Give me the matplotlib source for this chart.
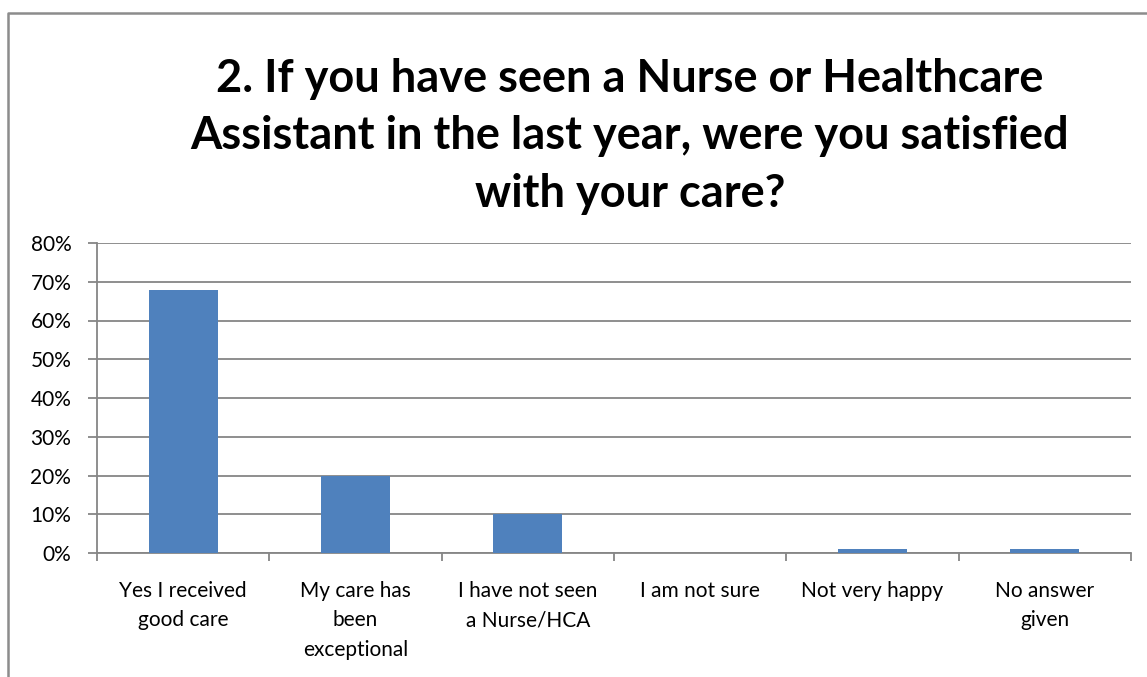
import matplotlib
matplotlib.use("Agg")
import matplotlib.pyplot as plt
from matplotlib.lines import Line2D
from matplotlib.ticker import FixedLocator, PercentFormatter

# survey answers (share of respondents)
categories = [
    "Yes I received\ngood care",
    "My care has\nbeen\nexceptional",
    "I have not seen\na Nurse/HCA",
    "I am not sure",
    "Not very happy",
    "No answer\ngiven",
]
shares = [0.68, 0.20, 0.10, 0.0, 0.01, 0.01]
y_ticks = [0.0, 0.1, 0.2, 0.3, 0.4, 0.5, 0.6, 0.7, 0.8]
title = ("2. If you have seen a Nurse or Healthcare\n"
         "Assistant in the last year, were you satisfied\n"
         "with your care?")

BAR = "#4F81BD"
GRID = "#868686"
W, H = 1147, 677

plt.rcParams["font.family"] = ["Lato", "DejaVu Sans"]

fig = plt.figure(figsize=(W / 100, H / 100), dpi=100)
ax = fig.add_axes([97 / W, 1 - 553 / H, (1131 - 97) / W, (553 - 243) / H])

pos = [i + 0.5 for i in range(len(categories))]
ax.bar(pos, shares, width=0.4, color=BAR, zorder=3)

ax.set_xlim(0, len(categories))
ax.set_ylim(0, 0.8)
ax.yaxis.set_major_locator(FixedLocator(y_ticks))
ax.yaxis.set_major_formatter(PercentFormatter(1.0, decimals=0))
ax.grid(axis="y", color=GRID, linewidth=1.3, zorder=0)

# boundaries get the tick marks, centres get the labels
ax.set_xticks(range(len(categories) + 1))
ax.set_xticklabels([])
ax.set_xticks(pos, minor=True)
ax.set_xticklabels(categories, minor=True, fontsize=15, linespacing=1.6)
ax.tick_params(axis="x", which="major", length=6, width=1.3, color=GRID)
ax.tick_params(axis="x", which="minor", length=0, pad=20)
ax.tick_params(axis="y", length=6.5, width=1.3, color=GRID, labelsize=15, pad=12)

for side in ("top", "right"):
    ax.spines[side].set_visible(False)
for side in ("left", "bottom"):
    ax.spines[side].set_color(GRID)
    ax.spines[side].set_linewidth(1.3)

fig.text(630 / W, 1 - 58 / H, title, ha="center", va="top",
         fontsize=32.5, fontweight="bold", linespacing=1.45)

# chart frame (cropped at right and bottom in the source)
fig.add_artist(Line2D([8 / W, 8 / W, 1.0], [0.0, 1 - 13 / H, 1 - 13 / H],
                      transform=fig.transFigure, color="#8C8C8C", linewidth=1.8))

fig.savefig("out.png", dpi=100)
